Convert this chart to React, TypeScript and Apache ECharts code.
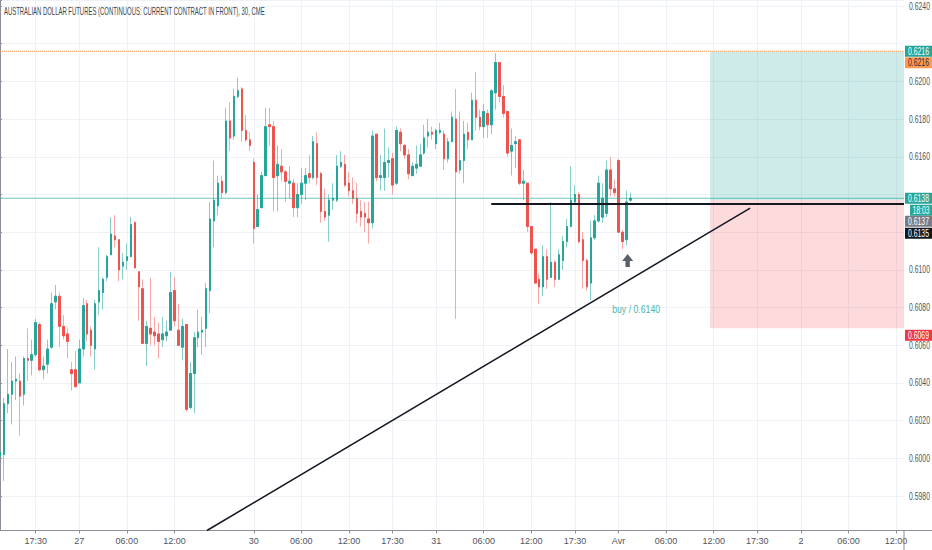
import React, { useEffect, useRef } from 'react';
import * as echarts from 'echarts';

const TITLE = 'AUSTRALIAN DOLLAR FUTURES (CONTINUOUS: CURRENT CONTRACT IN FRONT), 30, CME';

// 30-minute bars: [open, high, low, close]
const MAR26_BARS = [
  [0.6001, 0.6010, 0.5984, 0.6003], [0.6002, 0.6032, 0.5988, 0.6029], [0.6029, 0.6058, 0.6024, 0.6034],
  [0.6034, 0.6051, 0.6018, 0.6041], [0.6041, 0.6054, 0.6031, 0.6042], [0.6041, 0.6045, 0.6012, 0.6033],
  [0.6034, 0.6054, 0.6028, 0.6053], [0.6053, 0.6069, 0.6041, 0.6052], [0.6052, 0.6063, 0.6044, 0.6055],
  [0.6055, 0.6074, 0.6054, 0.6072], [0.6071, 0.6072, 0.6046, 0.6047], [0.6047, 0.6054, 0.6042, 0.6049],
  [0.6050, 0.6063, 0.6045, 0.6058], [0.6059, 0.6088, 0.6058, 0.6082], [0.6083, 0.6092, 0.6079, 0.6086],
  [0.6086, 0.6088, 0.6059, 0.6070], [0.6070, 0.6076, 0.6063, 0.6065], [0.6066, 0.6069, 0.6053, 0.6062],
  [0.6047, 0.6051, 0.6036, 0.6045], [0.6047, 0.6057, 0.6038, 0.6038],
];
const MAR27_BARS = [
  [0.6040, 0.6063, 0.6040, 0.6058], [0.6058, 0.6085, 0.6054, 0.6081], [0.6082, 0.6084, 0.6062, 0.6066],
  [0.6068, 0.6070, 0.6054, 0.6060], [0.6058, 0.6084, 0.6047, 0.6082], [0.6083, 0.6112, 0.6076, 0.6089],
  [0.6088, 0.6096, 0.6079, 0.6095], [0.6096, 0.6108, 0.6094, 0.6107], [0.6108, 0.6128, 0.6108, 0.6119],
  [0.6118, 0.6129, 0.6112, 0.6116], [0.6116, 0.6116, 0.6094, 0.6100], [0.6102, 0.6109, 0.6095, 0.6104],
  [0.6105, 0.6114, 0.6100, 0.6107], [0.6107, 0.6128, 0.6107, 0.6124], [0.6125, 0.6126, 0.6101, 0.6101],
  [0.6099, 0.6099, 0.6073, 0.6091], [0.6090, 0.6095, 0.6061, 0.6061], [0.6061, 0.6073, 0.6049, 0.6070],
  [0.6069, 0.6096, 0.6060, 0.6066], [0.6067, 0.6075, 0.6060, 0.6065], [0.6066, 0.6072, 0.6053, 0.6062],
  [0.6063, 0.6075, 0.6059, 0.6066], [0.6065, 0.6073, 0.6062, 0.6067], [0.6068, 0.6099, 0.6068, 0.6088],
  [0.6089, 0.6096, 0.6070, 0.6073], [0.6068, 0.6082, 0.6060, 0.6060], [0.6059, 0.6074, 0.6052, 0.6070],
  [0.6071, 0.6071, 0.6025, 0.6026], [0.6027, 0.6051, 0.6026, 0.6045], [0.6045, 0.6067, 0.6024, 0.6064],
  [0.6064, 0.6079, 0.6059, 0.6067], [0.6067, 0.6075, 0.6055, 0.6068], [0.6069, 0.6093, 0.6059, 0.6090],
  [0.6089, 0.6136, 0.6077, 0.6127], [0.6126, 0.6158, 0.6112, 0.6137], [0.6134, 0.6150, 0.6129, 0.6146],
  [0.6147, 0.6150, 0.6138, 0.6141], [0.6141, 0.6186, 0.6140, 0.6179], [0.6179, 0.6189, 0.6163, 0.6170],
  [0.6171, 0.6196, 0.6169, 0.6192], [0.6192, 0.6202, 0.6191, 0.6195], [0.6196, 0.6197, 0.6168, 0.6174],
  [0.6174, 0.6182, 0.6168, 0.6169], [0.6169, 0.6173, 0.6163, 0.6166],
];
const MAR30_BARS = [
  [0.6157, 0.6159, 0.6114, 0.6122], [0.6123, 0.6140, 0.6123, 0.6132], [0.6133, 0.6152, 0.6133, 0.6150],
  [0.6150, 0.6186, 0.6150, 0.6176], [0.6177, 0.6186, 0.6166, 0.6176], [0.6176, 0.6179, 0.6131, 0.6149],
  [0.6150, 0.6166, 0.6131, 0.6156], [0.6155, 0.6164, 0.6147, 0.6152], [0.6152, 0.6153, 0.6136, 0.6147],
  [0.6146, 0.6155, 0.6138, 0.6147], [0.6146, 0.6148, 0.6128, 0.6133], [0.6133, 0.6146, 0.6128, 0.6140],
  [0.6140, 0.6154, 0.6135, 0.6146], [0.6146, 0.6154, 0.6137, 0.6150], [0.6151, 0.6161, 0.6146, 0.6149],
  [0.6149, 0.6171, 0.6148, 0.6168], [0.6167, 0.6173, 0.6145, 0.6149], [0.6151, 0.6152, 0.6125, 0.6131],
  [0.6131, 0.6143, 0.6126, 0.6128], [0.6129, 0.6140, 0.6115, 0.6137], [0.6137, 0.6146, 0.6132, 0.6138],
  [0.6137, 0.6161, 0.6136, 0.6155], [0.6155, 0.6163, 0.6154, 0.6157], [0.6156, 0.6161, 0.6144, 0.6145],
  [0.6146, 0.6152, 0.6139, 0.6142], [0.6142, 0.6149, 0.6135, 0.6138], [0.6138, 0.6146, 0.6125, 0.6130],
  [0.6131, 0.6137, 0.6123, 0.6128], [0.6130, 0.6136, 0.6120, 0.6128], [0.6127, 0.6136, 0.6114, 0.6125],
  [0.6125, 0.6174, 0.6122, 0.6171], [0.6172, 0.6172, 0.6147, 0.6149], [0.6149, 0.6161, 0.6142, 0.6150],
  [0.6149, 0.6175, 0.6142, 0.6157], [0.6157, 0.6165, 0.6149, 0.6158], [0.6159, 0.6162, 0.6140, 0.6145],
  [0.6146, 0.6176, 0.6145, 0.6174], [0.6173, 0.6175, 0.6163, 0.6167], [0.6166, 0.6167, 0.6159, 0.6161],
  [0.6161, 0.6164, 0.6148, 0.6151], [0.6150, 0.6157, 0.6150, 0.6155], [0.6154, 0.6166, 0.6151, 0.6156],
  [0.6155, 0.6167, 0.6155, 0.6161], [0.6162, 0.6177, 0.6161, 0.6170], [0.6171, 0.6180, 0.6165, 0.6173],
  [0.6173, 0.6176, 0.6169, 0.6172],
];
const MAR31_BARS = [
  [0.6167, 0.6175, 0.6164, 0.6174], [0.6173, 0.6178, 0.6172, 0.6174], [0.6172, 0.6174, 0.6153, 0.6159],
  [0.6159, 0.6170, 0.6157, 0.6168], [0.6168, 0.6184, 0.6168, 0.6181], [0.6180, 0.6196, 0.6074, 0.6152],
  [0.6153, 0.6184, 0.6151, 0.6158], [0.6158, 0.6179, 0.6146, 0.6172], [0.6173, 0.6178, 0.6164, 0.6169],
  [0.6169, 0.6194, 0.6169, 0.6190], [0.6190, 0.6205, 0.6174, 0.6181], [0.6181, 0.6185, 0.6174, 0.6176],
  [0.6176, 0.6188, 0.6170, 0.6184], [0.6183, 0.6185, 0.6170, 0.6177], [0.6177, 0.6196, 0.6172, 0.6195],
  [0.6194, 0.6215, 0.6185, 0.6210], [0.6210, 0.6210, 0.6189, 0.6192], [0.6192, 0.6198, 0.6181, 0.6183],
  [0.6184, 0.6184, 0.6160, 0.6162], [0.6163, 0.6175, 0.6150, 0.6166], [0.6167, 0.6171, 0.6154, 0.6168],
  [0.6169, 0.6169, 0.6145, 0.6146], [0.6146, 0.6153, 0.6137, 0.6147], [0.6146, 0.6146, 0.6120, 0.6123],
  [0.6123, 0.6123, 0.6108, 0.6109], [0.6111, 0.6111, 0.6093, 0.6093], [0.6095, 0.6098, 0.6082, 0.6091],
  [0.6091, 0.6113, 0.6086, 0.6107], [0.6107, 0.6111, 0.6090, 0.6095], [0.6096, 0.6136, 0.6096, 0.6104],
  [0.6104, 0.6105, 0.6091, 0.6095], [0.6095, 0.6111, 0.6095, 0.6108], [0.6105, 0.6118, 0.6100, 0.6115],
  [0.6115, 0.6127, 0.6112, 0.6123], [0.6123, 0.6155, 0.6123, 0.6137], [0.6136, 0.6145, 0.6135, 0.6140],
  [0.6140, 0.6141, 0.6114, 0.6115], [0.6116, 0.6120, 0.6090, 0.6105], [0.6105, 0.6106, 0.6089, 0.6091],
  [0.6093, 0.6126, 0.6084, 0.6117], [0.6117, 0.6129, 0.6116, 0.6126], [0.6126, 0.6150, 0.6125, 0.6146],
  [0.6128, 0.6146, 0.6125, 0.6138], [0.6130, 0.6158, 0.6128, 0.6153], [0.6153, 0.6160, 0.6139, 0.6143],
  [0.6143, 0.6148, 0.6139, 0.6141],
];
const APR01_BARS = [
  [0.6158, 0.6159, 0.6120, 0.6120], [0.6120, 0.6121, 0.6111, 0.6115], [0.6116, 0.6142, 0.6113, 0.6136],
  [0.6137, 0.6141, 0.6136, 0.6138],
];

const SLOT_COUNT = 229; // bar slots on the time axis (incl. empty future slots)
const TIME_LABELS: Array<[number, string]> = [
  [9, '17:30'], [20, '27'], [32, '06:00'], [44, '12:00'], [64, '30'], [76, '06:00'], [88, '12:00'],
  [99, '17:30'], [110, '31'], [122, '06:00'], [134, '12:00'], [145, '17:30'], [156, 'Avr'],
  [168, '06:00'], [180, '12:00'], [191, '17:30'], [202, '2'], [214, '06:00'], [226, '12:00'],
];
// price-scale labels that are not hidden under the price tags
const PRICE_LABELS = [0.6240, 0.6200, 0.6180, 0.6160, 0.6100, 0.6080, 0.6060, 0.6040, 0.6020, 0.6000, 0.5980];

const PRICE_MIN = 0.59617;
const PRICE_MAX = 0.62432;
const LAST_PRICE = 0.6138;
const TARGET_PRICE = 0.6216;
const ENTRY_PRICE = 0.6137;
const STOP_PRICE = 0.6069;
const LEVEL_PRICE = 0.6135;
const LEVEL_FROM_SLOT = 123.9;
const ZONE_FROM_SLOT = 179.1;
const TREND_POINTS = [[52.2, 0.59617], [189.2, 0.61328]];
const ARROW_AT = [158.3, 0.61084];
const BUY_AT = [154.4, 0.60792];
const BUY_TEXT = 'buy / 0.6140';
const COUNTDOWN = '18:03';

const FONT = '"Liberation Sans", Arial, sans-serif';
const TEAL = '#26a69a';
const RED = '#ef5350';
const AXIS = '#8c8f99';
const GRIDC = '#eef1f6';
const LABEL = '#50535e';

export default function App() {
  const ref = useRef<HTMLDivElement>(null);

  useEffect(() => {
    document.body.style.margin = '0';
    const el = ref.current!;
    const chart = echarts.init(el, undefined, { renderer: 'svg' });

    const bars = [...MAR26_BARS, ...MAR27_BARS, ...MAR30_BARS, ...MAR31_BARS, ...APR01_BARS];
    const fullData = bars.map(([o, h, l, c]) => [o, c, l, h]);
    const bodyData = bars.map(([o, , , c]) => [o, c, Math.min(o, c), Math.max(o, c)]);
    const slots = Array.from({ length: SLOT_COUNT }, (_, k) => String(k));
    const labelMap = new Map<number, string>(TIME_LABELS);
    const showAt = (index: number) => labelMap.has(index);
    const lastSlot = SLOT_COUNT - 1;

    const option: any = {
      animation: false,
      backgroundColor: '#ffffff',
      grid: { left: 0, right: 28, top: 0, bottom: 19.5, containLabel: false, outerBoundsMode: 'none' },
      xAxis: [
        {
          type: 'category',
          data: slots,
          boundaryGap: false,
          axisLine: { show: true, lineStyle: { color: AXIS, width: 1 } },
          axisTick: { show: true, interval: showAt, length: 3, lineStyle: { color: AXIS } },
          axisLabel: {
            interval: showAt,
            formatter: (v: string) => labelMap.get(Number(v)) ?? '',
            color: LABEL,
            fontSize: 9,
            fontFamily: FONT,
            margin: 6,
          },
          splitLine: { show: true, interval: showAt, lineStyle: { color: GRIDC, width: 1 } },
        },
        { type: 'value', min: 0, max: lastSlot, show: false },
      ],
      yAxis: {
        type: 'value',
        position: 'right',
        min: PRICE_MIN,
        max: PRICE_MAX,
        splitNumber: 14,
        axisLine: { show: true, lineStyle: { color: AXIS } },
        axisTick: { show: true, length: 2, lineStyle: { color: AXIS } },
        axisLabel: { show: false },
        splitLine: { show: true, lineStyle: { color: GRIDC } },
      },
      series: [
        {
          type: 'line',
          xAxisIndex: 1,
          silent: true,
          symbol: 'none',
          z: 1,
          data: [[0, TARGET_PRICE], [lastSlot, TARGET_PRICE]],
          lineStyle: { color: '#ff9850', width: 1, type: 'dotted' },
          markArea: {
            silent: true,
            data: [
              [{ coord: [ZONE_FROM_SLOT, TARGET_PRICE], itemStyle: { color: 'rgba(38,166,154,0.22)' } }, { coord: [lastSlot, ENTRY_PRICE] }],
              [{ coord: [ZONE_FROM_SLOT, ENTRY_PRICE], itemStyle: { color: 'rgba(242,54,69,0.18)' } }, { coord: [lastSlot, STOP_PRICE] }],
            ],
          },
        },
        {
          type: 'candlestick',
          silent: true,
          z: 2,
          barWidth: 2,
          data: fullData,
          itemStyle: {
            color: 'rgba(0,0,0,0)',
            color0: 'rgba(0,0,0,0)',
            borderColor: 'rgba(38,166,154,0.55)',
            borderColor0: 'rgba(239,83,80,0.5)',
            borderColorDoji: 'rgba(38,166,154,0.55)',
            borderWidth: 1,
          },
        },
        {
          type: 'candlestick',
          silent: true,
          z: 3,
          barWidth: 2,
          data: bodyData,
          itemStyle: {
            color: TEAL,
            color0: RED,
            borderColor: TEAL,
            borderColor0: RED,
            borderColorDoji: TEAL,
            borderWidth: 1,
          },
        },
        {
          type: 'line',
          xAxisIndex: 1,
          silent: true,
          symbol: 'none',
          z: 4,
          data: [[0, LAST_PRICE], [lastSlot, LAST_PRICE]],
          lineStyle: { color: 'rgba(38,166,154,0.65)', width: 1 },
        },
        {
          type: 'line',
          xAxisIndex: 1,
          silent: true,
          symbol: 'none',
          z: 5,
          data: [[LEVEL_FROM_SLOT, LEVEL_PRICE], [lastSlot, LEVEL_PRICE]],
          lineStyle: { color: '#131722', width: 2 },
        },
        {
          type: 'line',
          xAxisIndex: 1,
          silent: true,
          symbol: 'none',
          clip: false,
          z: 5,
          data: TREND_POINTS,
          lineStyle: { color: '#131722', width: 1.5 },
        },
      ],
    };
    chart.setOption(option);

    const px = (k: number, p: number) =>
      chart.convertToPixel({ xAxisIndex: 1, yAxisIndex: 0 } as any, [k, p]) as unknown as number[];
    const [gx, gy] = px(lastSlot, PRICE_MIN);
    const W = el.clientWidth;
    const H = el.clientHeight;

    const ctx = document.createElement('canvas').getContext('2d')!;
    const measure = (text: string, size: number) => {
      ctx.font = `${size}px ${FONT}`;
      return ctx.measureText(text).width;
    };
    const titleScale = 261 / measure(TITLE, 10);
    const buyScale = Math.min(1, 48 / measure(BUY_TEXT, 11));
    const priceScale = 21 / measure('0.6240', 10);

    const textStyle = (text: string, size: number, fill: string, align = 'left') => ({
      text,
      font: `${size}px ${FONT}`,
      fill,
      align,
      textAlign: align,
      verticalAlign: 'middle',
      textVerticalAlign: 'middle',
    });

    const elements: any[] = [];

    // price-scale labels, placed through the y scale
    PRICE_LABELS.forEach((v) => {
      const y = px(0, v)[1];
      elements.push({ type: 'text', z: 40, x: gx + 5, y, scaleX: priceScale, style: textStyle(v.toFixed(4), 10, LABEL) });
    });

    const tag = (cy: number, text: string, bg: string, fg = '#ffffff', x0 = gx + 1) => {
      const tw = measure(text, 10);
      const s = Math.min(priceScale, (W - x0 - 4) / tw);
      elements.push({ type: 'rect', z: 100, shape: { x: x0, y: cy - 5.5, width: W - x0, height: 11 }, style: { fill: bg } });
      elements.push({ type: 'text', z: 101, x: (x0 + W) / 2, y: cy, scaleX: s, style: textStyle(text, 10, fg, 'center') });
    };

    // axis border extensions into the corner
    elements.push({ type: 'line', z: 50, shape: { x1: gx, y1: gy, x2: gx, y2: H }, style: { stroke: AXIS, lineWidth: 1 } });
    elements.push({ type: 'line', z: 50, shape: { x1: gx, y1: gy, x2: W, y2: gy }, style: { stroke: AXIS, lineWidth: 1 } });

    // title
    elements.push({ type: 'text', z: 60, x: 4, y: 12, scaleX: titleScale, style: textStyle(TITLE, 10, '#3b3f4a') });

    // buy annotation + arrow
    const [bx, by] = px(BUY_AT[0], BUY_AT[1]);
    elements.push({ type: 'text', z: 60, x: bx, y: by, scaleX: buyScale, style: textStyle(BUY_TEXT, 11, '#4db6ac') });
    const [ax, ay] = px(ARROW_AT[0], ARROW_AT[1]);
    elements.push({
      type: 'polygon',
      z: 60,
      shape: {
        points: [
          [ax, ay], [ax + 5.5, ay + 7], [ax + 2.2, ay + 7], [ax + 2.2, ay + 13],
          [ax - 2.2, ay + 13], [ax - 2.2, ay + 7], [ax - 5.5, ay + 7],
        ],
      },
      style: { fill: '#5d606b' },
    });

    // price tags on the scale
    const yTarget = px(0, TARGET_PRICE)[1];
    const yLast = px(0, LAST_PRICE)[1];
    const yStop = px(0, STOP_PRICE)[1];
    tag(yTarget, TARGET_PRICE.toFixed(4), TEAL);
    tag(yTarget + 11.5, TARGET_PRICE.toFixed(4), '#ff9850', '#2a2e39');
    tag(yStop + 7, STOP_PRICE.toFixed(4), '#f23645');
    tag(yLast, LAST_PRICE.toFixed(4), TEAL);
    tag(yLast + 12, COUNTDOWN, TEAL, '#ffffff', gx + 6);
    tag(yLast + 23, ENTRY_PRICE.toFixed(4), '#787b86');
    tag(yLast + 35, LEVEL_PRICE.toFixed(4), '#131722');

    chart.setOption({ graphic: { elements } });

    return () => chart.dispose();
  }, []);

  return <div ref={ref} style={{ width: 932, height: 550 }} />;
}
